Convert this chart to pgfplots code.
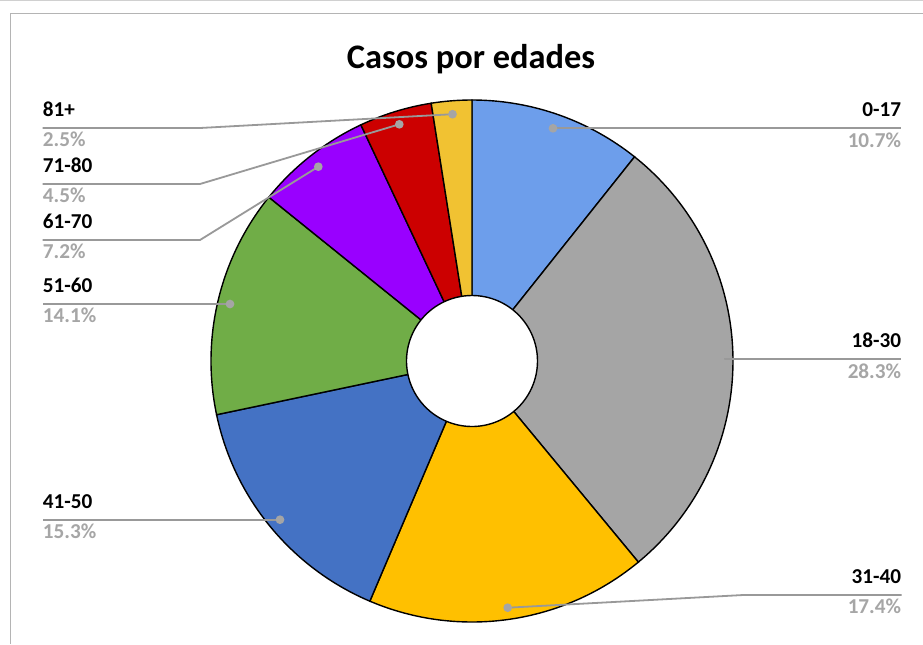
\documentclass[border=0pt]{standalone}
\usepackage{pgfplots}
\pgfplotsset{compat=1.18}
\usepackage{fontspec}
\setmainfont{Carlito}

\definecolor{c0017}{HTML}{6D9EEB}
\definecolor{c1830}{HTML}{A5A5A5}
\definecolor{c3140}{HTML}{FFC000}
\definecolor{c4150}{HTML}{4472C4}
\definecolor{c5160}{HTML}{70AD47}
\definecolor{c6170}{HTML}{9900FF}
\definecolor{c7180}{HTML}{CC0000}
\definecolor{c81}{HTML}{F1C232}
\definecolor{leader}{HTML}{999999}
\definecolor{pctgray}{HTML}{A6A6A6}

% centre and radius of the pie, in pixels of the picture
\def\cx{472}\def\cy{361}\def\R{261}\def\r{65.5}
\def\cum{0}
% one slice: colour, share in percent (clockwise from the top)
\newcommand\slice[2]{%
  \pgfmathsetmacro\aS{90-3.6*\cum}%
  \pgfmathsetmacro\nc{\cum+#2}\global\let\cum\nc
  \pgfmathsetmacro\aE{90-3.6*\cum}%
  \edef\doslice{\noexpand\addplot[draw=black, line width=0.7pt, fill=#1,
    domain=\aE:\aS, samples=90]
    ({\cx+\R*cos(x)},{\cy-\R*sin(x)}) -- (axis cs:\cx,\cy) -- cycle;}%
  \doslice}
\newcommand\lbl[5]{% x, line y, anchor, name, percent
  \node[anchor=base #3, inner sep=0pt, font=\fontsize{10.6}{12}\selectfont\bfseries]
    at (axis cs:#1,#2-11.7) {#4};
  \node[anchor=base #3, inner sep=0pt, text=pctgray, font=\fontsize{10.6}{12}\selectfont\bfseries]
    at (axis cs:#1,#2+18.8) {#5};}

\begin{document}
\begin{tikzpicture}
\begin{axis}[scale only axis, width=461.5pt, height=322pt,
  xmin=0, xmax=923, ymin=0, ymax=644, y dir=reverse,
  hide axis, clip=false]
\fill[white] (axis cs:0,0) rectangle (axis cs:923,644);
\draw[color={rgb,255:red,208;green,208;blue,208}, line width=0.5pt]
  (axis cs:0,0.6) -- (axis cs:923,0.6);
\draw[color={rgb,255:red,180;green,180;blue,180}, line width=0.75pt]
  (axis cs:10.6,644) -- (axis cs:10.6,13.3) -- (axis cs:923,13.3);

\node[font=\fontsize{17.2}{20}\selectfont\bfseries] at (axis cs:471,59) {Casos por edades};

\slice{c0017}{10.7}
\slice{c1830}{28.3}
\slice{c3140}{17.4}
\slice{c4150}{15.3}
\slice{c5160}{14.1}
\slice{c6170}{7.2}
\slice{c7180}{4.5}
\slice{c81}{2.5}
\addplot[draw=black, line width=0.7pt, fill=white, domain=0:360, samples=120]
  ({\cx+\r*cos(x)},{\cy-\r*sin(x)});

% leader lines, the dot at the first point
\tikzset{ld/.style={color=leader, line width=0.9pt, mark=*, mark indices={1},
  mark options={fill=c1830, draw=c1830, scale=0.85}}}
\addplot[ld] coordinates {(553,128.3) (901,128.3)};
\addplot[ld] coordinates {(720,359.3) (901,359.3)};
\addplot[ld] coordinates {(507.7,607.7) (743.3,595) (901.7,595)};
\addplot[ld] coordinates {(280,519.7) (42.5,519.7)};
\addplot[ld] coordinates {(230,304) (42.5,304)};
\addplot[ld] coordinates {(318.3,166.7) (200,240) (42.5,240)};
\addplot[ld] coordinates {(399.3,124.3) (200,184) (42.5,184)};
\addplot[ld] coordinates {(452.5,114.2) (200,128) (42.5,128)};

\lbl{901.5}{128.3}{east}{0-17}{10.7\%}
\lbl{901.5}{359.3}{east}{18-30}{28.3\%}
\lbl{901.5}{595}{east}{31-40}{17.4\%}
\lbl{42.5}{519.7}{west}{41-50}{15.3\%}
\lbl{42.5}{304}{west}{51-60}{14.1\%}
\lbl{42.5}{240}{west}{61-70}{7.2\%}
\lbl{42.5}{184}{west}{71-80}{4.5\%}
\lbl{42.5}{128}{west}{81+}{2.5\%}
\end{axis}
\pgfresetboundingbox
\path (current axis.south west) rectangle (current axis.north east);
\end{tikzpicture}
\end{document}
